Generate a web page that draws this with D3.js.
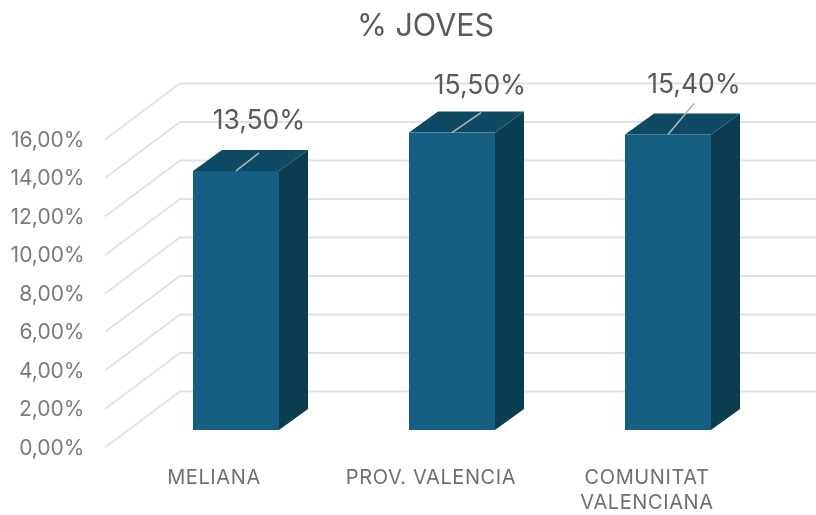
<!DOCTYPE html>
<html><head><meta charset="utf-8">
<script src="https://cdn.jsdelivr.net/npm/d3@7/dist/d3.min.js"></script>
<style>html,body{margin:0;padding:0;background:#fff}svg{display:block;filter:blur(0.45px)}text{font-family:Inter,sans-serif}</style>
</head><body><svg id="c" width="816" height="515"></svg>
<script>
const categories = ["MELIANA", "PROV. VALENCIA", "COMUNITAT VALENCIANA"];
const categoryLines = [["MELIANA"], ["PROV. VALENCIA"], ["COMUNITAT", "VALENCIANA"]];
const values = [13.5, 15.5, 15.4];
const valueLabels = ["13,50%", "15,50%", "15,40%"];
const ticks = [0, 2, 4, 6, 8, 10, 12, 14, 16];
const tickLabel = d => d.toFixed(2).replace(".", ",") + "%";
const title = "% JOVES";

const W = 816, H = 515;
const svg = d3.select("#c");
const frontAxisY = d3.scaleLinear().domain([0, 16]).range([447.5, 139.5]);
const wallDX = 75, wallDY = -56;
const barY = d3.scaleLinear().domain([0, 16]).range([430, 123]);
const x = d3.scalePoint().domain(categories).range([236, 668]);
const barW = 86, depthX = 29, depthY = -21;
const axisX = 105;

svg.append("text").attr("x", 425.5).attr("y", 36).attr("text-anchor", "middle")
  .attr("font-size", 30.5).attr("fill", "#595959").text(title);

const grid = svg.append("g").attr("fill", "none").attr("stroke", "#e2e2e2").attr("stroke-width", 1.8);
grid.selectAll("path").data(ticks).join("path")
  .attr("d", d => {
    const y = frontAxisY(d);
    return d3.line()([[axisX, y], [axisX + wallDX, y + wallDY], [W, y + wallDY]]);
  });

svg.append("g").selectAll("text").data(ticks).join("text")
  .attr("x", 84.5).attr("y", d => frontAxisY(d) + 7).attr("text-anchor", "end")
  .attr("font-size", 21).attr("fill", "#7a7a7a").text(tickLabel);

const bars = svg.append("g").selectAll("g").data(categories).join("g");
const bx = (c) => x(c) - barW / 2;
const barTop = (i) => barY(values[i]);
bars.append("path").attr("fill", "#0b3d50")
  .attr("d", (c, i) => {
    const r = bx(c) + barW, t = barTop(i), b = barY(0);
    return d3.line()([[r, t], [r + depthX, t + depthY], [r + depthX, b + depthY], [r, b]]) + "Z";
  });
bars.append("path").attr("fill", "#0e4a63")
  .attr("d", (c, i) => {
    const l = bx(c), r = l + barW, t = barTop(i);
    return d3.line()([[l, t], [l + depthX, t + depthY], [r + depthX, t + depthY], [r, t]]) + "Z";
  });
bars.append("rect").attr("fill", "#156082")
  .attr("x", bx).attr("y", (c, i) => barTop(i)).attr("width", barW)
  .attr("height", (c, i) => barY(0) - barTop(i));

// Leader lines from each bar's top to its value label
const leaderRise = [18, 20, 31];
const leaderRun = [23, 29, 26];
svg.append("g").selectAll("line").data(categories).join("line")
  .attr("x1", c => x(c)).attr("y1", (c, i) => barTop(i))
  .attr("x2", (c, i) => x(c) + leaderRun[i]).attr("y2", (c, i) => barTop(i) - leaderRise[i])
  .attr("stroke", "#a9b6bb").attr("stroke-width", 1.6);

const labelDX = [23, 28, 26];
const labelBase = [129, 94, 93];
svg.append("g").selectAll("text").data(valueLabels).join("text")
  .attr("x", (d, i) => x(categories[i]) + labelDX[i]).attr("y", (d, i) => labelBase[i])
  .attr("text-anchor", "middle").attr("font-size", 26.5).attr("fill", "#595959").text(d => d);

const cats = svg.append("g").selectAll("text").data(categories).join("text")
  .attr("text-anchor", "middle").attr("font-size", 20).attr("letter-spacing", 0.6).attr("fill", "#6f6f6f");
const catCenter = [214, 431, 647];
cats.each(function (c, i) {
  d3.select(this).selectAll("tspan").data(categoryLines[i]).join("tspan")
    .attr("x", catCenter[i]).attr("y", (d, j) => 484 + j * 25).text(d => d);
});
</script></body></html>
